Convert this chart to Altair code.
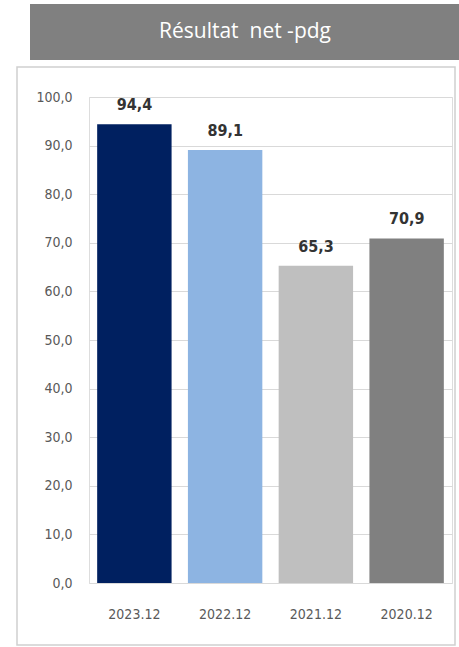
import altair as alt
import pandas as pd

periods = ["2023.12", "2022.12", "2021.12", "2020.12"]
values = [94.4, 89.1, 65.3, 70.9]
labels = ["94,4", "89,1", "65,3", "70,9"]
colors = ["#002060", "#8DB4E2", "#BFBFBF", "#808080"]
title_text = "Résultat\u00a0 net -pdg"

df = pd.DataFrame({"period": periods, "value": values, "label": labels, "color": colors})

FONT = "'DejaVu Sans Condensed', 'Liberation Sans', sans-serif"
W, H = 363, 486
x_enc = alt.X("period:N", sort=periods, title=None,
              scale=alt.Scale(paddingInner=0.18, paddingOuter=0.09),
              axis=alt.Axis(labelAngle=0, labelFontSize=14, labelColor="#595959",
                            labelFont=FONT, labelPadding=24,
                            domain=False, ticks=False, grid=False))
y_enc = alt.Y("value:Q", title=None,
              scale=alt.Scale(domain=[0, 100], nice=False),
              axis=alt.Axis(values=list(range(0, 101, 10)),
                            labelExpr="replace(format(datum.value, '.1f'), '.', ',')",
                            labelFontSize=14, labelColor="#595959",
                            labelFont=FONT, labelPadding=17,
                            domain=False, ticks=False, gridColor="#D9D9D9"))

base = alt.Chart(df)
bars = base.mark_bar().encode(x=x_enc, y=y_enc,
                              color=alt.Color("color:N", scale=None))
text = base.mark_text(dy=-11, baseline="bottom", fontSize=16, fontWeight="bold",
                      color="#333333", font=FONT).encode(
    x=alt.X("period:N", sort=periods), y="value:Q", text="label:N")

frame = alt.Chart(pd.DataFrame({"k": [0]})).mark_rect(
    fill=None, stroke="#D0D0D0", strokeWidth=1.5).encode(
    x=alt.value(-72), x2=alt.value(366), y=alt.value(-30), y2=alt.value(548))
banner = alt.Chart(pd.DataFrame({"k": [0]})).mark_rect(color="#808080").encode(
    x=alt.value(-59), x2=alt.value(372), y=alt.value(-93), y2=alt.value(-37))
banner_text = alt.Chart(pd.DataFrame({"t": [title_text]})).mark_text(
    color="white", fontSize=21, font="Open Sans", baseline="middle", align="center").encode(
    x=alt.value(156), y=alt.value(-65), text="t:N")

chart = alt.layer(frame, banner, banner_text, bars, text).properties(
    width=W, height=H,
    autosize=alt.AutoSizeParams(type="none"),
    padding={"left": 89, "top": 97, "right": 7, "bottom": 64},
).configure_view(stroke=None).configure(background="white")

chart.save("out.html", embed_options={"renderer": "svg", "actions": False})
